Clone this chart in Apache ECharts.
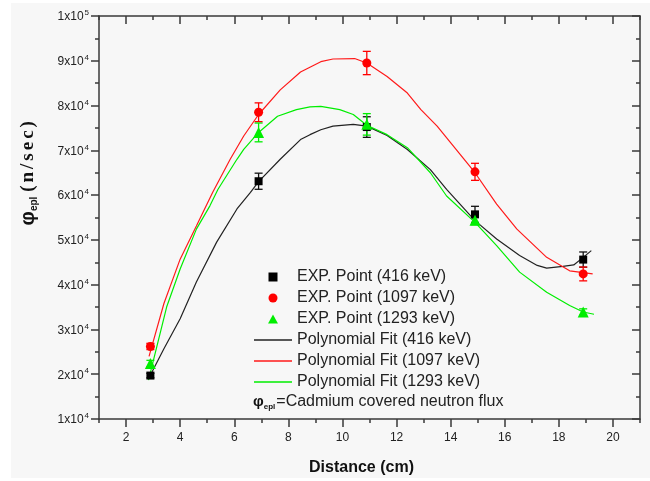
<!DOCTYPE html>
<html lang="en">
<head>
    <meta charset="UTF-8">
    <title>Cadmium covered neutron flux</title>
    <style>
        html, body { margin: 0; padding: 0; background: #ffffff; }
        .box { width: 650px; height: 481px; }
    </style>
    <script src="https://cdn.jsdelivr.net/npm/echarts@6/dist/echarts.min.js"></script>
</head>
<body>
    <div class="box" id="chart"></div>
    <script>
        // measured points (Distance in cm)
        const pointX = [2.9, 6.9, 10.9, 14.9, 18.9];
        const exp416 = [19700, 63100, 75200, 55700, 45600];
        const err416 = [500, 1800, 2300, 1800, 1700];
        const exp1097 = [26200, 78500, 89500, 65200, 42400];
        const err1097 = [700, 2100, 2600, 1900, 1550];
        const exp1293 = [22400, 74000, 75800, 54400, 33900];
        const err1293 = [700, 2100, 2400, 1000, 700];

        // polynomial fits
        const fitX416 = [2.83, 3.4, 4.0, 4.6, 5.35, 6.1, 6.6, 6.9, 7.7, 8.45, 8.8, 9.2, 9.65, 10.4, 10.9, 11.65, 12.4, 13.25, 13.85, 14.9, 15.7, 16.55, 17.2, 17.55, 18.15, 18.55, 18.9, 19.2];
        const fit416 = [19000, 25700, 32400, 40600, 49500, 56900, 60600, 63000, 68000, 72400, 73500, 74600, 75400, 75800, 75400, 73300, 70200, 65700, 61300, 54300, 50200, 46500, 44300, 43700, 44100, 44400, 46100, 47600];
        const fitX1097 = [2.85, 3.4, 4.0, 4.6, 5.2, 5.85, 6.35, 6.9, 7.7, 8.45, 9.2, 9.65, 10.45, 10.9, 11.65, 12.4, 12.9, 13.5, 14.2, 14.9, 15.7, 16.45, 17.55, 18.4, 19.25];
        const fit1097 = [24000, 35800, 45700, 53100, 60600, 68000, 73200, 78000, 83500, 87500, 89800, 90400, 90500, 89500, 86500, 82800, 79100, 75400, 70200, 65000, 58000, 52400, 46100, 43100, 42400];
        const fitX1293 = [2.83, 3.5, 4.0, 4.6, 5.1, 5.4, 6.1, 6.35, 6.9, 7.6, 8.3, 8.8, 9.2, 9.9, 10.4, 10.9, 11.65, 12.4, 13.25, 13.85, 14.9, 15.7, 16.55, 17.55, 18.4, 18.9, 19.3];
        const fit1293 = [18700, 35000, 43500, 52400, 57600, 61300, 68000, 70200, 74000, 77600, 79100, 79700, 79800, 79100, 78000, 75600, 73500, 70600, 65000, 59800, 53900, 48700, 42800, 38300, 35350, 33900, 33400];

        const yTicks = [10000, 100000, 10000]; // min, max, step
        const xRange = [1, 21];

        const axisColor = '#3a3a3a';
        const textColor = '#222';
        const bg = '#f7f7f7';

        // legend icons (keep aspect so markers stay square)
        const icoSquare = 'path://M0,0H10V10H0Z';
        const icoCircle = 'path://M5,0A5,5,0,1,1,5,10A5,5,0,1,1,5,0Z';
        const icoTriangle = 'path://M5.5,0L11,10H0Z';
        const icoLine = 'path://M0,0H38V1.3H0Z';

        function pairs(xs, ys) { return xs.map((x, i) => [x, ys[i]]); }
        function bars(xs, ys, es) { return xs.map((x, i) => [x, ys[i] - es[i], ys[i] + es[i]]); }

        function errorBar(color) {
            return function (params, api) {
                const lo = api.coord([api.value(0), api.value(1)]);
                const hi = api.coord([api.value(0), api.value(2)]);
                const w = 4;
                const st = { stroke: color, lineWidth: 1.3 };
                return {
                    type: 'group',
                    children: [
                        { type: 'line', shape: { x1: lo[0], y1: lo[1], x2: hi[0], y2: hi[1] }, style: st },
                        { type: 'line', shape: { x1: lo[0] - w, y1: lo[1], x2: lo[0] + w, y2: lo[1] }, style: st },
                        { type: 'line', shape: { x1: hi[0] - w, y1: hi[1], x2: hi[0] + w, y2: hi[1] }, style: st }
                    ]
                };
            };
        }

        const lineStyleAxis = { color: axisColor, width: 1.5 };
        function tickAxisX(pos) {
            return {
                type: 'value', position: pos, min: xRange[0], max: xRange[1], interval: 2,
                axisLine: { show: true, onZero: false, lineStyle: lineStyleAxis },
                axisTick: { show: true, inside: pos === 'top', length: 4, lineStyle: lineStyleAxis },
                minorTick: { show: true, splitNumber: 2, length: 8, lineStyle: lineStyleAxis },
                axisLabel: { show: false }, splitLine: { show: false }, minorSplitLine: { show: false }
            };
        }
        function yAx(pos) {
            return {
                type: 'value', position: pos, min: yTicks[0], max: yTicks[1], interval: yTicks[2],
                axisLine: { show: true, onZero: false, lineStyle: lineStyleAxis },
                axisTick: { show: true, inside: pos === 'right', length: 8, lineStyle: lineStyleAxis },
                minorTick: { show: true, splitNumber: 2, length: 4, lineStyle: lineStyleAxis },
                splitLine: { show: false }, minorSplitLine: { show: false },
                axisLabel: { show: false }
            };
        }

        const yLeft = yAx('left');
        yLeft.axisLabel = {
            show: true, margin: 10, color: textColor,
            formatter: v => {
                const e = v >= 100000 ? 5 : 4;
                return '{m|' + Math.round(v / Math.pow(10, e)) + 'x10}{e|' + e + '}';
            },
            rich: {
                m: { fontSize: 12, fontFamily: 'Liberation Sans', color: textColor, verticalAlign: 'bottom' },
                e: { fontSize: 8, fontFamily: 'Liberation Sans', color: textColor, verticalAlign: 'top', padding: [0, 0, 6, 1] }
            }
        };
        yLeft.name = '{p|φ}{s|epl} {c|(}{c|n}{c|/}{c|s}{c|e}{c|c}{c|)}';
        yLeft.nameLocation = 'middle';
        yLeft.nameGap = 60;
        yLeft.nameTextStyle = {
            padding: [0, 0, 0, 90],
            rich: {
                p: { fontSize: 20, fontWeight: 'bold', fontFamily: 'Liberation Sans', color: '#111' },
                s: { fontSize: 10, fontWeight: 'bold', fontFamily: 'Liberation Sans', color: '#111', verticalAlign: 'bottom', padding: [12, 0, 0, 0] },
                c: { fontSize: 19, fontWeight: 'bold', fontFamily: 'Liberation Serif', color: '#111', padding: [0, 1.5, 0, 1.5] }
            }
        };

        const xLabels = {
            type: 'value', position: 'bottom', min: xRange[0], max: xRange[1], interval: 1,
            axisLine: { show: false }, axisTick: { show: false }, splitLine: { show: false },
            axisLabel: {
                margin: 13, fontSize: 12, fontFamily: 'Liberation Sans', color: textColor,
                formatter: v => (v % 2 === 0 ? String(v) : '')
            },
            name: 'Distance (cm)', nameLocation: 'middle', nameGap: 41,
            nameTextStyle: { fontSize: 16, fontWeight: 'bold', fontFamily: 'Liberation Sans', color: '#111', padding: [0, 16, 0, 0] }
        };

        const inst = echarts.init(document.getElementById('chart'), null, { renderer: 'canvas' });
        const opt = {
            animation: false,
            backgroundColor: '#ffffff',
            graphic: [
                { type: 'rect', z: -10, shape: { x: 11, y: 3, width: 639, height: 475 }, style: { fill: bg } },
                {
                    type: 'text', left: 253, top: 394, z: 10,
                    style: {
                        text: '{p|φ}{s|epl}{t|=Cadmium covered neutron flux}',
                        rich: {
                            p: { fontSize: 15, fontWeight: 'bold', fontFamily: 'Liberation Sans', fill: '#111' },
                            s: { fontSize: 8, fontWeight: 'bold', fontFamily: 'Liberation Sans', fill: '#111', verticalAlign: 'bottom', padding: [9, 1, 0, 0] },
                            t: { fontSize: 16, fontFamily: 'Liberation Sans', fill: textColor }
                        }
                    }
                }
            ],
            grid: { left: 99, right: 10, top: 16, bottom: 61, containLabel: false },
            legend: {
                orient: 'vertical', left: 254, top: 269, padding: 0,
                itemWidth: 38, itemHeight: 9, itemGap: 5, symbolKeepAspect: true,
                textStyle: { fontSize: 16, lineHeight: 16, fontFamily: 'Liberation Sans', color: textColor },
                data: [
                    { name: 'EXP. Point (416 keV)', icon: icoSquare },
                    { name: 'EXP. Point (1097 keV)', icon: icoCircle },
                    { name: 'EXP. Point (1293 keV)', icon: icoTriangle },
                    { name: 'Polynomial Fit (416 keV)', icon: icoLine },
                    { name: 'Polynomial Fit (1097 keV)', icon: icoLine },
                    { name: 'Polynomial Fit (1293 keV)', icon: icoLine }
                ]
            },
            xAxis: [tickAxisX('bottom'), xLabels, tickAxisX('top')],
            yAxis: [yLeft, yAx('right')],
            series: [
                { name: 'Polynomial Fit (416 keV)', type: 'line', data: pairs(fitX416, fit416), symbol: 'none', lineStyle: { color: '#222', width: 1.2 }, itemStyle: { color: '#222' }, z: 2 },
                { name: 'Polynomial Fit (1097 keV)', type: 'line', data: pairs(fitX1097, fit1097), symbol: 'none', lineStyle: { color: '#ff1a1a', width: 1.2 }, itemStyle: { color: '#ff1a1a' }, z: 2 },
                { name: 'Polynomial Fit (1293 keV)', type: 'line', data: pairs(fitX1293, fit1293), symbol: 'none', lineStyle: { color: '#00ee00', width: 1.2 }, itemStyle: { color: '#00ee00' }, z: 2 },
                { type: 'custom', renderItem: errorBar('#111'), data: bars(pointX, exp416, err416), z: 3, silent: true },
                { type: 'custom', renderItem: errorBar('#ff0000'), data: bars(pointX, exp1097, err1097), z: 3, silent: true },
                { type: 'custom', renderItem: errorBar('#00ee00'), data: bars(pointX, exp1293, err1293), z: 3, silent: true },
                { name: 'EXP. Point (416 keV)', type: 'scatter', data: pairs(pointX, exp416), symbol: 'rect', symbolSize: 8, itemStyle: { color: '#000', opacity: 1 }, z: 4 },
                { name: 'EXP. Point (1097 keV)', type: 'scatter', data: pairs(pointX, exp1097), symbol: 'circle', symbolSize: 9, itemStyle: { color: '#ff0000', opacity: 1 }, z: 4 },
                { name: 'EXP. Point (1293 keV)', type: 'scatter', data: pairs(pointX, exp1293), symbol: 'triangle', symbolSize: 11, itemStyle: { color: '#00ee00', opacity: 1 }, z: 4 }
            ]
        };
        inst.setOption(opt);
    </script>
</body>
</html>
